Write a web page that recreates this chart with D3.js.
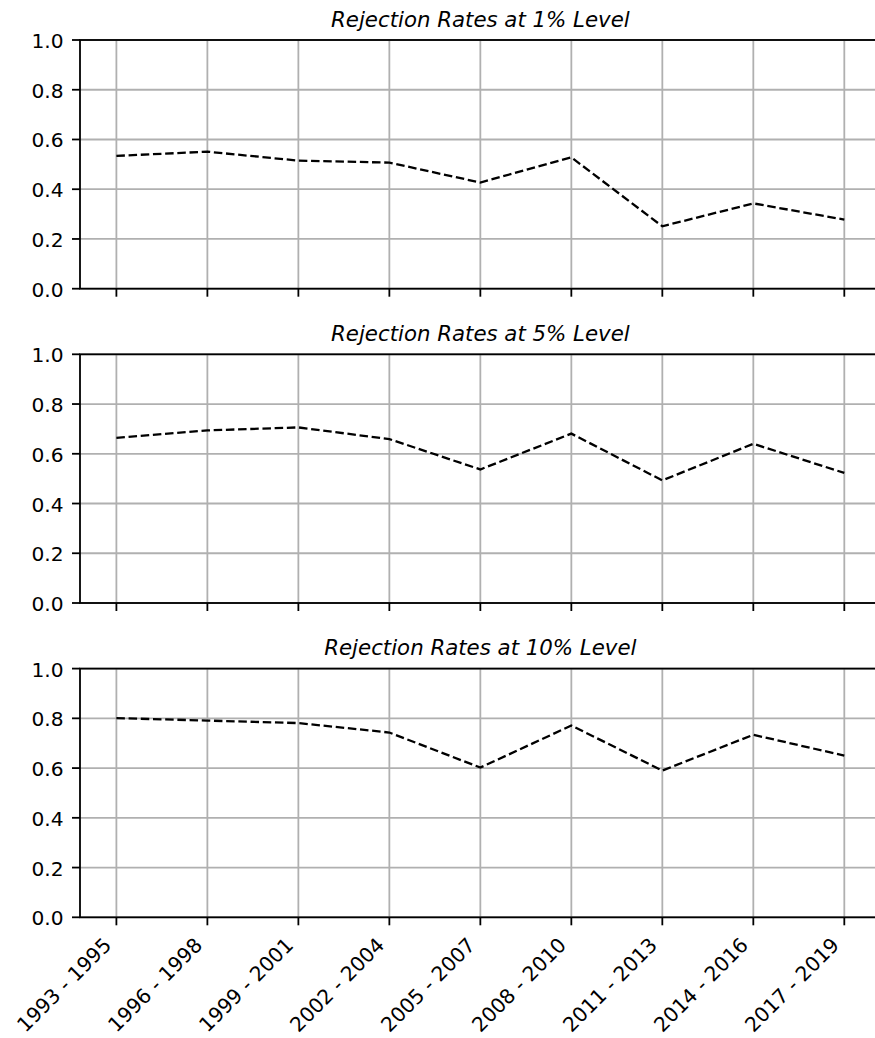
<!DOCTYPE html>
<html>
<head>
<meta charset="utf-8">
<script src="https://cdn.jsdelivr.net/npm/d3@7"></script>
<style>
  html, body { margin: 0; padding: 0; background: #fff; }
  svg { display: block; }
  text { font-family: "DejaVu Sans", sans-serif; fill: #000; }
</style>
</head>
<body>
<svg id="chart" width="875" height="1038"></svg>
<script>
const periods = ["1993 - 1995", "1996 - 1998", "1999 - 2001", "2002 - 2004", "2005 - 2007",
                 "2008 - 2010", "2011 - 2013", "2014 - 2016", "2017 - 2019"];
const rate1 = [0.534, 0.551, 0.515, 0.507, 0.427, 0.528, 0.251, 0.343, 0.278];
const rate5 = [0.664, 0.694, 0.706, 0.659, 0.537, 0.681, 0.493, 0.640, 0.523];
const rate10 = [0.801, 0.791, 0.781, 0.743, 0.602, 0.771, 0.590, 0.734, 0.650];
const titles = ["Rejection Rates at 1% Level", "Rejection Rates at 5% Level", "Rejection Rates at 10% Level"];
const yTicks = [0.0, 0.2, 0.4, 0.6, 0.8, 1.0];

const panels = [rate1, rate5, rate10];
const svg = d3.select("#chart");
const left = 80, right = 880.7;
const panelH = 248.7;
const tops = [40, 354.3, 668.6];
const fsTitle = 21.3;
const fsTick = 20.2;
const lw = 1.8;

const x = d3.scaleLinear().domain([-0.4, periods.length - 1 + 0.4]).range([left, right]);

panels.forEach((vals, pi) => {
  const top = tops[pi], bottom = top + panelH;
  const y = d3.scaleLinear().domain([0, 1]).range([bottom, top]);
  const g = svg.append("g");

  // grid
  g.selectAll(".vg").data(periods).enter().append("line")
    .attr("x1", (d, i) => x(i)).attr("x2", (d, i) => x(i))
    .attr("y1", top).attr("y2", bottom)
    .attr("stroke", "#b0b0b0").attr("stroke-width", lw);
  g.selectAll(".hg").data(yTicks).enter().append("line")
    .attr("x1", left).attr("x2", right)
    .attr("y1", d => y(d)).attr("y2", d => y(d))
    .attr("stroke", "#b0b0b0").attr("stroke-width", lw);

  // line
  const line = d3.line().x((d, i) => x(i)).y(d => y(d));
  g.append("path").datum(vals)
    .attr("d", line)
    .attr("fill", "none").attr("stroke", "#000")
    .attr("stroke-width", 2.3)
    .attr("stroke-dasharray", "8.5,3.7");

  // spines
  g.append("rect").attr("x", left).attr("y", top)
    .attr("width", right - left).attr("height", panelH)
    .attr("fill", "none").attr("stroke", "#000").attr("stroke-width", lw);

  // y ticks
  g.selectAll(".yt").data(yTicks).enter().append("line")
    .attr("x1", left - 8).attr("x2", left)
    .attr("y1", d => y(d)).attr("y2", d => y(d))
    .attr("stroke", "#000").attr("stroke-width", lw);
  g.selectAll(".yl").data(yTicks).enter().append("text")
    .attr("x", left - 16.5).attr("y", d => y(d) + 8.0)
    .attr("text-anchor", "end").attr("font-size", fsTick)
    .text(d => d.toFixed(1));

  // x ticks
  g.selectAll(".xt").data(periods).enter().append("line")
    .attr("x1", (d, i) => x(i)).attr("x2", (d, i) => x(i))
    .attr("y1", bottom).attr("y2", bottom + 8)
    .attr("stroke", "#000").attr("stroke-width", lw);

  if (pi === panels.length - 1) {
    g.selectAll(".xl").data(periods).enter().append("text")
      .attr("text-anchor", "end").attr("font-size", fsTick)
      .attr("transform", (d, i) => `translate(${x(i) - 3.9},${bottom + 29}) rotate(-45)`)
      .text(d => d);
  }

  // title
  g.append("text")
    .attr("x", (left + right) / 2).attr("y", top - 13.3)
    .attr("text-anchor", "middle").attr("font-size", fsTitle)
    .attr("font-style", "italic")
    .text(titles[pi]);
});
</script>
</body>
</html>
